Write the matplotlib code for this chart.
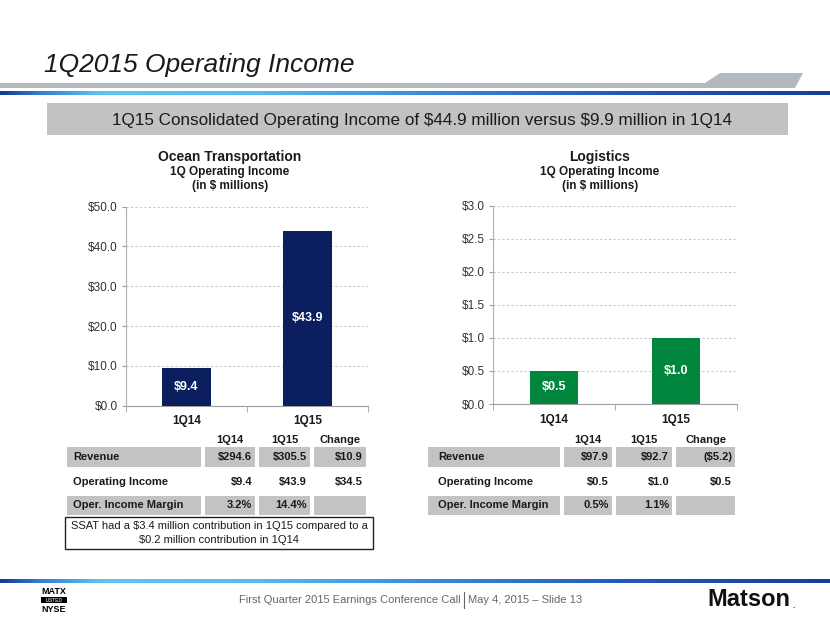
import numpy as np
import matplotlib
matplotlib.use("Agg")
import matplotlib.pyplot as plt
from matplotlib.patches import Rectangle, Polygon
from matplotlib.colors import LinearSegmentedColormap

plt.rcParams['font.family'] = ['Liberation Sans', 'DejaVu Sans']
plt.rcParams['text.parse_math'] = False

# data
quarters = ['1Q14', '1Q15']
ocean_income = [9.4, 43.9]
logistics_income = [0.5, 1.0]
ocean_ticks = [0, 10, 20, 30, 40, 50]
logistics_ticks = [0, 0.5, 1.0, 1.5, 2.0, 2.5, 3.0]

table_cols = ['1Q14', '1Q15', 'Change']
table_rows = ['Revenue', 'Operating Income', 'Oper. Income Margin']
ocean_table = [['$294.6', '$305.5', '$10.9'],
               ['$9.4', '$43.9', '$34.5'],
               ['3.2%', '14.4%', '']]
logistics_table = [['$97.9', '$92.7', '($5.2)'],
                   ['$0.5', '$1.0', '$0.5'],
                   ['0.5%', '1.1%', '']]

W, H = 830, 623
fig = plt.figure(figsize=(8.3, 6.23), dpi=100)
bg = fig.add_axes([0, 0, 1, 1])
bg.set_xlim(0, W)
bg.set_ylim(H, 0)
bg.axis('off')

# title + header decoration
bg.text(44, 65, '1Q2015 Operating Income', fontsize=19, style='italic',
        color='#1a1a1a', va='center', ha='left')
bg.add_patch(Polygon([(0, 83), (705, 83), (720, 73), (803, 73), (795, 88), (0, 88)],
                     closed=True, facecolor='#b4b9be', edgecolor='none'))

grad_cmap = LinearSegmentedColormap.from_list(
    'bl', [(0, '#163c96'), (0.04, '#2f78cc'), (0.12, '#5cc6f3'), (0.3, '#56bdf0'),
           (0.5, '#3a8ee0'), (0.75, '#2258bd'), (1, '#143f9c')])
grad = np.linspace(0, 1, 400).reshape(1, -1)
bg.imshow(grad, cmap=grad_cmap, extent=(0, W, 95, 91), aspect='auto')
bg.imshow(grad, cmap=grad_cmap, extent=(0, W, 583, 579), aspect='auto')
bg.set_xlim(0, W)
bg.set_ylim(H, 0)

# banner
bg.add_patch(Rectangle((47, 103), 741, 32, facecolor='#c2c2c2', edgecolor='none'))
bg.text(422, 120, '1Q15 Consolidated Operating Income of $44.9 million versus $9.9 million in 1Q14',
        fontsize=12.35, color='#1a1a1a', ha='center', va='center')


def bar_chart(rect, values, ticks, color, fmt, cx, titles):
    ax = fig.add_axes(rect)
    x = np.arange(len(quarters))
    bars = ax.bar(x, values, width=0.4, color=color, zorder=3)
    for b, v in zip(bars, values):
        ax.text(b.get_x() + b.get_width() / 2, v / 2, '$' + fmt.format(v),
                color='white', fontsize=9, fontweight='bold', ha='center', va='center', zorder=4)
    ax.set_xlim(-0.5, 1.5)
    ax.set_ylim(ticks[0], ticks[-1])
    ax.set_yticks(ticks)
    ax.set_yticklabels(['$' + fmt.format(t) for t in ticks], fontsize=8.5, color='#333333')
    ax.set_xticks(x)
    ax.set_xticklabels(quarters, fontsize=8.5, fontweight='bold', color='#1a1a1a')
    ax.set_xticks([-0.5, 0.5, 1.5], minor=True)
    ax.tick_params(axis='x', which='major', length=0, pad=7)
    ax.tick_params(axis='x', which='minor', length=4, color='#a0a0a0', direction='out')
    ax.tick_params(axis='y', length=3, color='#a0a0a0', pad=3)
    ax.yaxis.grid(True, linestyle=(0, (2, 2)), color='#c8c8c8', linewidth=0.8, zorder=0)
    for s in ['top', 'right']:
        ax.spines[s].set_visible(False)
    ax.spines['left'].set_color('#b0b0b0')
    ax.spines['bottom'].set_color('#a0a0a0')
    ax.set_facecolor('none')
    bg.text(cx, 157, titles[0], fontsize=10, fontweight='bold', ha='center', va='center', color='#1a1a1a')
    bg.text(cx, 172, '1Q Operating Income', fontsize=8.5, fontweight='bold', ha='center', va='center', color='#1a1a1a')
    bg.text(cx, 186, '(in $ millions)', fontsize=8.5, fontweight='bold', ha='center', va='center', color='#1a1a1a')
    return ax


bar_chart([126 / W, 1 - 405.7 / H, 242 / W, 199 / H], ocean_income, ocean_ticks,
          '#0b1f5e', '{:.1f}', 230, ['Ocean Transportation'])
bar_chart([493 / W, 1 - 404 / H, 244 / W, 198.3 / H], logistics_income, logistics_ticks,
          '#00873d', '{:.1f}', 600, ['Logistics'])


def draw_table(label_x, cells, data):
    # cells: (left, right) for the label column and the 3 value columns
    row_y = [(447, 467), (472, 492), (496, 515)]
    for j, c in enumerate(table_cols):
        l, r = cells[j + 1]
        bg.text((l + r) / 2, 440, c, fontsize=8, fontweight='bold', ha='center', va='center', color='#1a1a1a')
    for i, name in enumerate(table_rows):
        y0, y1 = row_y[i]
        if i != 1:
            for l, r in cells:
                bg.add_patch(Rectangle((l, y0), r - l, y1 - y0, facecolor='#c3c3c3', edgecolor='none'))
        yc = (y0 + y1) / 2
        bg.text(label_x, yc, name, fontsize=8, fontweight='bold', ha='left', va='center', color='#1a1a1a')
        for j, val in enumerate(data[i]):
            l, r = cells[j + 1]
            bg.text(r - 3, yc, val, fontsize=8, fontweight='bold', ha='right', va='center', color='#1a1a1a')


draw_table(73, [(67, 201), (205, 255), (259, 310), (314, 366)], ocean_table)
draw_table(438, [(428, 560), (564, 612), (616, 672), (676, 735)], logistics_table)

# SSAT note
bg.add_patch(Rectangle((65, 517), 308, 32, facecolor='white', edgecolor='#222222', linewidth=1))
bg.text(219, 526, 'SSAT had a $3.4 million contribution in 1Q15 compared to a',
        fontsize=8, ha='center', va='center', color='#1a1a1a')
bg.text(219, 540, '$0.2 million contribution in 1Q14',
        fontsize=8, ha='center', va='center', color='#1a1a1a')

# footer
bg.text(54, 591, 'MATX', fontsize=6.5, fontweight='bold', ha='center', va='center', color='black')
bg.add_patch(Rectangle((41, 597), 26, 6, facecolor='black', edgecolor='none'))
bg.text(54, 600, 'LISTED', fontsize=3.5, ha='center', va='center', color='white')
bg.text(54, 609, 'NYSE', fontsize=6.5, fontweight='bold', ha='center', va='center', color='black')
bg.text(461, 600, 'First Quarter 2015 Earnings Conference Call', fontsize=8,
        ha='right', va='center', color='#666666')
bg.plot([464, 464], [592, 608], color='#666666', linewidth=0.8)
bg.text(468, 600, 'May 4, 2015 \u2013 Slide 13', fontsize=8, ha='left', va='center', color='#666666')
bg.text(707, 600, 'Matson', fontsize=17, fontweight='bold', ha='left', va='center', color='#111111')
bg.text(792, 606, '.', fontsize=6, fontweight='bold', ha='left', va='center', color='#111111')

fig.savefig('out.png', dpi=100)
